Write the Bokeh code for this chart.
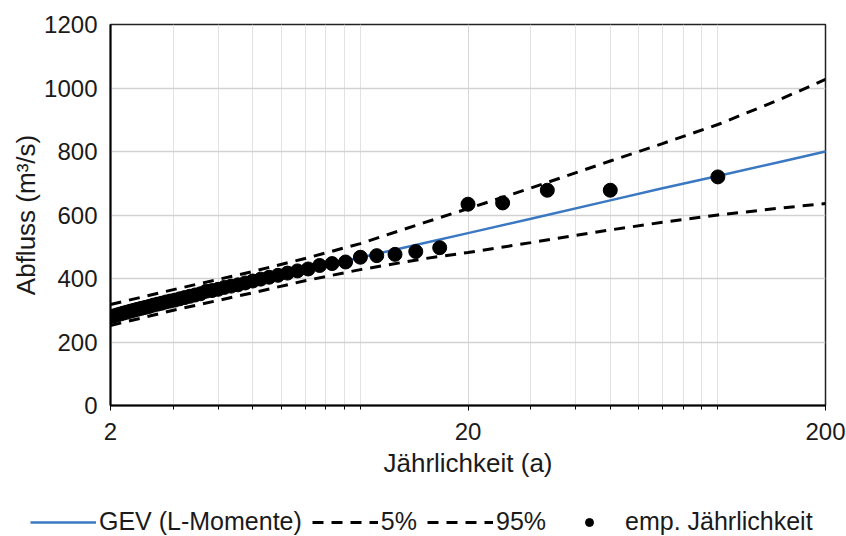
from bokeh.plotting import figure
from bokeh.models import Range1d, FixedTicker, Legend, LegendItem
from bokeh.layouts import column
from bokeh.embed import file_html
from bokeh.resources import INLINE

# --- data -------------------------------------------------------------
# empirical return periods T = (n+1)/m with n+1 = 100, only T >= 2 shown
emp_rank = list(range(1, 51))
emp_T = [100.0 / m for m in emp_rank]
emp_Q = [720, 678, 678, 638, 634, 497, 485, 476, 472, 467,
         452, 447, 441, 430, 424, 417, 410, 404, 398, 392,
         386, 380, 376, 372, 366, 362, 360, 352, 348, 344,
         340, 336, 332, 329, 326, 322, 319, 316, 312, 309,
         306, 303, 300, 297, 294, 291, 288, 285, 282, 280]

curve_T = [2, 3, 5, 7, 10, 15, 20, 30, 50, 70, 100, 150, 200]
gev_Q   = [286, 331, 388, 425, 466, 511, 543, 588, 646, 684, 723, 768, 800]
q95_Q   = [318, 365, 422, 463, 510, 575, 620, 685, 770, 825, 885, 965, 1027]
q05_Q   = [252, 300, 355, 393, 428, 462, 482, 513, 553, 577, 600, 622, 636]

x_major = [2, 20, 200]
x_minor = [3, 4, 5, 6, 7, 8, 9, 10, 30, 40, 50, 60, 70, 80, 90, 100]
y_ticks = [0, 200, 400, 600, 800, 1000, 1200]

series_labels = ["GEV (L-Momente)", "5%", "95%", "emp. Jährlichkeit"]

FONT = "Liberation Sans"
BLUE = "#3a78c2"
DASH = "11 8"

p = figure(frame_width=715, frame_height=381, x_axis_type="log",
           x_range=Range1d(2, 200), y_range=Range1d(0, 1200),
           output_backend="svg", toolbar_location=None,
           min_border_left=110, min_border_right=21,
           min_border_top=24, min_border_bottom=84)
p.frame_align = False

p.background_fill_color = "white"
p.border_fill_color = "white"
p.outline_line_color = "#222222"
p.outline_line_width = 1.5

# grid
p.xaxis.ticker = FixedTicker(ticks=x_major, minor_ticks=x_minor)
p.yaxis.ticker = FixedTicker(ticks=y_ticks)
p.xgrid.grid_line_color = "#d6d6d6"
p.xgrid.grid_line_width = 1
p.xgrid.minor_grid_line_color = "#e2e2e2"
p.xgrid.minor_grid_line_width = 1
p.ygrid.grid_line_color = "#d2d2d2"
p.ygrid.grid_line_width = 1.5

# axes
for ax in (p.xaxis, p.yaxis):
    ax.axis_line_color = "black"
    ax.axis_line_width = 2
    ax.major_label_text_font = FONT
    ax.major_label_text_font_size = "24px"
    ax.major_label_text_color = "#1a1a1a"
    ax.axis_label_text_font = FONT
    ax.axis_label_text_font_size = "26px"
    ax.axis_label_text_font_style = "normal"
    ax.axis_label_text_color = "#1a1a1a"

p.xaxis.axis_label = "Jährlichkeit (a)"
p.xaxis.major_tick_out = 5
p.xaxis.major_tick_in = 0
p.xaxis.minor_tick_out = 4
p.xaxis.minor_tick_in = 0
p.xaxis.major_tick_line_color = "black"
p.xaxis.minor_tick_line_color = "black"
p.xaxis.major_label_standoff = 12
p.xaxis.axis_label_standoff = 5
p.xaxis.major_label_overrides = {2: "2", 20: "20", 200: "200"}

p.yaxis.axis_label = "Abfluss (m³/s)"
p.yaxis.major_tick_out = 0
p.yaxis.major_tick_in = 0
p.yaxis.minor_tick_out = 0
p.yaxis.minor_tick_in = 0
p.yaxis.major_label_standoff = 13
p.yaxis.axis_label_standoff = 0

# curves
p.line(curve_T, gev_Q, line_color=BLUE, line_width=2.5)
p.line(curve_T, q05_Q, line_color="black", line_width=3, line_dash=DASH)
p.line(curve_T, q95_Q, line_color="black", line_width=3, line_dash=DASH)
p.scatter(emp_T, emp_Q, marker="circle", size=14,
          fill_color="black", line_color="black")

# legend strip below the chart (its ranges keep the proxy glyphs out of view)
lg = figure(width=846, height=47, x_range=Range1d(-2, -1), y_range=Range1d(-2, -1),
            output_backend="svg", toolbar_location=None,
            x_axis_location=None, y_axis_location=None,
            min_border_left=0, min_border_right=0,
            min_border_top=0, min_border_bottom=0)
lg.frame_align = False
lg.xgrid.visible = False
lg.ygrid.visible = False
lg.outline_line_color = None
lg.background_fill_color = "white"
lg.border_fill_color = "white"

l_gev = lg.line(curve_T, gev_Q, line_color=BLUE, line_width=2.5)
l_05 = lg.line(curve_T, q05_Q, line_color="black", line_width=3, line_dash=DASH)
l_95 = lg.line(curve_T, q95_Q, line_color="black", line_width=3, line_dash=DASH)
l_emp = lg.scatter(emp_T, emp_Q, marker="circle", size=11,
                   fill_color="black", line_color="black")

legend = Legend(items=[
    LegendItem(label=series_labels[0], renderers=[l_gev]),
    LegendItem(label=series_labels[1], renderers=[l_05]),
    LegendItem(label=series_labels[2], renderers=[l_95]),
    LegendItem(label=series_labels[3], renderers=[l_emp]),
], orientation="horizontal", location=(30, 0))
legend.label_text_font = FONT
legend.label_text_font_size = "25px"
legend.label_text_color = "#1a1a1a"
legend.glyph_width = 66
legend.label_standoff = 3
legend.spacing = 10
legend.border_line_color = None
legend.background_fill_alpha = 0
legend.padding = 0
legend.margin = 0
lg.add_layout(legend, "center")

layout = column(p, lg, spacing=0)
open("out.html", "w").write(file_html(layout, INLINE))
